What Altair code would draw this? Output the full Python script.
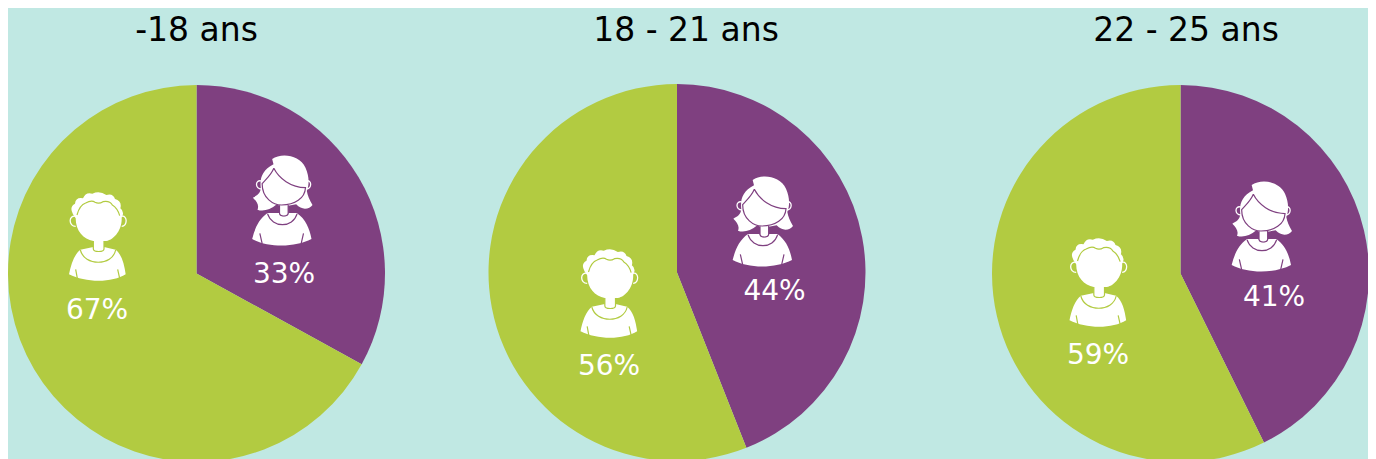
import re
import altair as alt
import pandas as pd

# Values
ages = ["-18 ans", "18 - 21 ans", "22 - 25 ans"]
women_drawn = [33, 44, 42.7]
women_labels = ["33%", "44%", "41%"]
men_labels = ["67%", "56%", "59%"]

# Layout in page pixels
PURPLE = "#7f4080"
GREEN = "#b2cb41"
BG = "#c0e8e3"
centre_x = [196.5, 677, 1180.5]
centre_y = [273.5, 272.5, 273.5]
title_x = [196.5, 686, 1186]
title_y = 31
women_label_xy = [(284, 275), (774.5, 292), (1274, 298)]
men_label_xy = [(97, 311), (609, 367), (1098, 356)]
women_icon_xy = [(281.5, 200), (762, 221), (1261, 226)]
men_icon_xy = [(99, 236), (610.5, 293), (1099.5, 282)]


def unit(path):
    """Icon paths are drawn on a 300x330 grid at 3x; turn them into symbol units."""
    i = [0]
    def repl(m):
        v = float(m.group())
        c = 150 if i[0] % 2 == 0 else 165
        i[0] += 1
        return f"{(v - c) / 150:.4f}"
    return re.sub(r"-?\d+(\.\d+)?", repl, path)


woman_fill = unit(
    "M122 42 C150 22 205 30 222 68 C233 92 234 118 226 138 C228 150 234 165 243 180 "
    "C234 192 212 198 194 178 L170 182 L170 206 C170 216 144 216 144 206 L144 182 L136 178 "
    "C116 196 92 200 78 194 C84 180 74 168 64 158 C76 152 86 146 88 130 C84 100 92 76 126 58 Z "
    "M108 204 L142 204 C146 218 168 218 172 204 L196 204 C222 222 234 250 240 282 "
    "C190 308 110 308 62 282 C70 250 82 222 108 204 Z"
)
woman_ears = unit("M90 108 C70 102 70 132 90 132 M224 108 C242 102 242 132 224 132")
woman_lines = unit(
    "M127 70 C118 92 102 104 92 116 C92 160 126 180 150 180 C190 180 220 160 222 128 "
    "C178 128 142 100 127 70 "
    "M144 180 L144 204 C144 216 170 216 170 204 L170 180 "
    "M108 206 C122 250 184 250 197 206 "
    "M85 265 L92 296 M216 265 L209 296"
)
man_fill = unit(
    "M72 100 Q60 78 78 68 Q80 48 102 52 Q110 32 130 38 Q152 28 172 42 Q192 36 198 54 "
    "Q220 60 214 82 Q228 92 218 110 C220 150 190 182 165 180 L165 204 C165 214 133 214 133 204 "
    "L133 180 C104 176 80 150 80 112 Z "
    "M94 206 L133 198 C135 216 163 216 165 198 L200 206 C218 220 226 250 230 280 "
    "C190 306 110 306 60 280 C66 250 76 220 94 206 Z"
)
man_ears = unit("M80 106 C58 102 58 136 80 136 M218 106 C236 102 236 136 218 136")
man_lines = unit(
    "M84 102 Q92 72 110 66 Q128 56 138 64 Q150 70 162 62 Q182 58 190 72 Q206 82 212 104 "
    "M133 180 L133 204 C133 214 165 214 165 204 L165 180 "
    "M94 207 C106 256 190 256 200 207 "
    "M80 265 L85 292 M206 265 L212 292"
)

# Tables
arc_rows = []
for a, w, cx, cy in zip(ages, women_drawn, centre_x, centre_y):
    arc_rows.append({"age": a, "who": "F", "start": 0, "end": w, "cx": cx, "cy": cy})
    arc_rows.append({"age": a, "who": "H", "start": w, "end": 100, "cx": cx, "cy": cy})
arcs_df = pd.DataFrame(arc_rows)

titles_df = pd.DataFrame({"t": ages, "x": title_x, "y": [title_y] * 3})
labels_df = pd.DataFrame({
    "t": women_labels + men_labels,
    "x": [p[0] for p in women_label_xy + men_label_xy],
    "y": [p[1] for p in women_label_xy + men_label_xy],
})
women_df = pd.DataFrame(women_icon_xy, columns=["x", "y"])
men_df = pd.DataFrame(men_icon_xy, columns=["x", "y"])

W, H = 1360, 451
X_SCALE = alt.Scale(domain=[8, 8 + W], range=[0, W], nice=False, zero=False)
Y_SCALE = alt.Scale(domain=[8, 8 + H], range=[0, H], nice=False, zero=False)
X = alt.X("x:Q", scale=X_SCALE, axis=None)
Y = alt.Y("y:Q", scale=Y_SCALE, axis=None)

pies = alt.Chart(arcs_df).mark_arc(radius=188.5).encode(
    x=alt.X("cx:Q", scale=X_SCALE, axis=None),
    y=alt.Y("cy:Q", scale=Y_SCALE, axis=None),
    theta=alt.Theta("start:Q", scale=alt.Scale(domain=[0, 100], range=[0, 6.283185307]), stack=None),
    theta2="end:Q",
    color=alt.Color("who:N", scale=alt.Scale(domain=["F", "H"], range=[PURPLE, GREEN]), legend=None),
)


def icon(df, shape, filled, colour, sw=0.0):
    kw = dict(shape=shape, size=10000, opacity=1, filled=filled)
    if filled:
        kw.update(fill=colour, strokeWidth=0)
    else:
        kw.update(stroke=colour, strokeWidth=sw, fillOpacity=0)
    return alt.Chart(df).mark_point(**kw).encode(x=X, y=Y)


titles = alt.Chart(titles_df).mark_text(
    font="DejaVu Sans", fontSize=33, color="black", baseline="middle", align="center"
).encode(x=X, y=Y, text="t:N")
labels = alt.Chart(labels_df).mark_text(
    font="DejaVu Sans", fontSize=28, color="white", baseline="middle", align="center"
).encode(x=X, y=Y, text="t:N")

chart = alt.layer(
    pies,
    icon(women_df, woman_fill, True, "white"),
    icon(women_df, woman_ears, False, "white", 1.3),
    icon(women_df, woman_lines, False, PURPLE, 1.2),
    icon(men_df, man_fill, True, "white"),
    icon(men_df, man_ears, False, "white", 1.3),
    icon(men_df, man_lines, False, GREEN, 1.2),
    titles,
    labels,
).properties(
    width=W, height=H, background=BG, padding=0,
    autosize=alt.AutoSizeParams(type="none", contains="content"),
).configure_view(stroke=None)

chart.save("out.html", embed_options={"renderer": "svg", "actions": False})
